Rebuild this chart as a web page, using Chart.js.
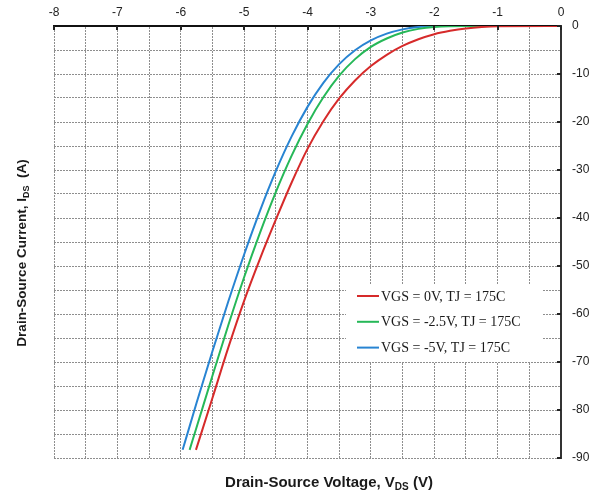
<!DOCTYPE html>
<html>
<head>
<meta charset="utf-8">
<script src="https://cdn.jsdelivr.net/npm/chart.js@4.4.1/dist/chart.umd.min.js"></script>
<style>
  html, body { margin: 0; padding: 0; background: #fff; }
  #wrap { width: 592px; height: 493px; }
</style>
</head>
<body>
<div id="wrap"><canvas id="chart" width="592" height="493"></canvas></div>
<script>
// curve labels, same order as the legend
const seriesLabels = ['VGS = 0V, TJ = 175C', 'VGS = -2.5V, TJ = 175C', 'VGS = -5V, TJ = 175C'];
const seriesColors = ['rgb(214,42,42)', 'rgb(38,184,88)', 'rgb(40,132,210)'];

// VGS = 0V
const vdsRed = [-5.76, -5.5, -5.25, -5, -4.75, -4.5, -4.25, -4, -3.75, -3.5, -3.25, -3, -2.75, -2.5, -2.25, -2, -1.75, -1.5, -1.25, -1, 0];
const idsRed = [-88.3, -77.5, -67, -57.25, -48.5, -40.35, -32.6, -25.6, -19.85, -15.1, -11.35, -8.35, -6, -4.15, -2.75, -1.7, -1, -0.5, -0.2, -0.05, 0];

// VGS = -2.5V
const vdsGreen = [-5.86, -5.75, -5.5, -5.25, -5, -4.75, -4.5, -4.25, -4, -3.75, -3.5, -3.25, -3, -2.75, -2.5, -2.25, -2, -1.5, 0];
const idsGreen = [-88.3, -83.6, -72.85, -62.35, -52.35, -43.1, -34.6, -27, -20.4, -14.85, -10.35, -6.9, -4.35, -2.6, -1.35, -0.6, -0.2, 0, 0];

// VGS = -5V
const vdsBlue = [-5.97, -5.75, -5.5, -5.25, -5, -4.75, -4.5, -4.25, -4, -3.75, -3.5, -3.25, -3, -2.75, -2.5, -2.25, -2, 0];
const idsBlue = [-88.3, -78.5, -67.75, -57.4, -47.6, -38.5, -30.25, -23, -16.85, -11.85, -7.95, -5.05, -3, -1.6, -0.7, -0.2, 0, 0];

// axis ranges
const xMin = -8, xMax = 0, xStep = 0.5;
const yMin = -90, yMax = 0, yStep = 5;

const sansFont = "'Liberation Sans', Arial, sans-serif";
const serifFont = "'Liberation Serif', 'Times New Roman', serif";

const toPoints = (xs, ys) => xs.map((v, i) => ({ x: v, y: ys[i] }));

const curveSets = [
    toPoints(vdsRed, idsRed),
    toPoints(vdsGreen, idsGreen),
    toPoints(vdsBlue, idsBlue)
];

// text with a subscript part, e.g. V + DS
function drawSubText(ctx, parts, cx, cy, size) {
    const mainFont = 'bold ' + size + 'px ' + sansFont;
    const subFont = 'bold ' + Math.round(size * 0.68) + 'px ' + sansFont;
    let total = 0;
    parts.forEach(p => {
        ctx.font = p.sub ? subFont : mainFont;
        total += ctx.measureText(p.text).width;
    });
    let x = cx - total / 2;
    ctx.textAlign = 'left';
    ctx.textBaseline = 'alphabetic';
    parts.forEach(p => {
        ctx.font = p.sub ? subFont : mainFont;
        ctx.fillText(p.text, x, cy + (p.sub ? 3 : 0));
        x += ctx.measureText(p.text).width;
    });
}

const extras = {
    id: 'extras',
    afterDatasetsDraw(chart) {
        const { ctx, chartArea: a, scales } = chart;
        const xs = scales.x, ys = scales.y;
        ctx.save();

        // short tick marks pointing into the plot
        ctx.strokeStyle = '#222';
        ctx.lineWidth = 2;
        ctx.beginPath();
        for (let v = xMin; v <= xMax; v++) {
            const px = Math.round(xs.getPixelForValue(v));
            ctx.moveTo(px, a.top);
            ctx.lineTo(px, a.top + 4);
        }
        for (let v = yMax; v >= yMin; v -= 10) {
            const py = Math.round(ys.getPixelForValue(v));
            ctx.moveTo(a.right - 4, py);
            ctx.lineTo(a.right, py);
        }
        ctx.stroke();

        // legend box inside the plot
        ctx.fillStyle = '#fff';
        ctx.fillRect(346, 284, 196, 78);
        ctx.font = '14px ' + serifFont;
        ctx.textAlign = 'left';
        ctx.textBaseline = 'middle';
        seriesLabels.forEach((label, i) => {
            const rowY = 296 + i * 25.8;
            ctx.strokeStyle = seriesColors[i];
            ctx.lineWidth = 2;
            ctx.beginPath();
            ctx.moveTo(357, rowY);
            ctx.lineTo(379, rowY);
            ctx.stroke();
            ctx.fillStyle = '#1a1a1a';
            ctx.fillText(label, 381, rowY + 1);
        });
        ctx.restore();
    },
    afterDraw(chart) {
        const { ctx } = chart;
        ctx.save();
        ctx.fillStyle = '#1a1a1a';
        drawSubText(ctx, [
            { text: 'Drain-Source Voltage, V' },
            { text: 'DS', sub: true },
            { text: ' (V)' }
        ], 329, 487, 15);

        ctx.translate(26, 253);
        ctx.rotate(-Math.PI / 2);
        drawSubText(ctx, [
            { text: 'Drain-Source Current, I' },
            { text: 'DS', sub: true },
            { text: '  (A)' }
        ], 0, 0, 13.5);
        ctx.restore();
    }
};

new Chart(document.getElementById('chart'), {
    type: 'line',
    data: {
        datasets: curveSets.map((pts, i) => ({
            label: seriesLabels[i],
            data: pts,
            borderColor: seriesColors[i],
            borderWidth: 2,
            pointRadius: 0,
            fill: false,
            cubicInterpolationMode: 'monotone'
        }))
    },
    options: {
        responsive: false,
        animation: false,
        layout: { padding: { left: 54, right: 0, top: 0, bottom: 35 } },
        plugins: {
            legend: { display: false },
            tooltip: { enabled: false }
        },
        scales: {
            x: {
                type: 'linear',
                position: 'top',
                min: xMin,
                max: xMax,
                afterFit: (s) => { s.height = 26; },
                ticks: {
                    stepSize: xStep,
                    maxTicksLimit: 100,
                    autoSkip: false,
                    maxRotation: 0,
                    padding: 6,
                    color: '#222',
                    font: { family: sansFont, size: 12 },
                    callback: (v) => Number.isInteger(v) ? String(v) : ''
                },
                grid: { color: '#8e8e8e', lineWidth: 1, drawTicks: false },
                border: { color: '#111', width: 2, dash: [2, 1] }
            },
            y: {
                type: 'linear',
                position: 'right',
                min: yMin,
                max: yMax,
                afterFit: (s) => { s.width = 31; },
                ticks: {
                    stepSize: yStep,
                    maxTicksLimit: 100,
                    autoSkip: false,
                    padding: 11,
                    color: '#222',
                    font: { family: sansFont, size: 12 },
                    callback: (v) => v % 10 === 0 ? String(v) : ''
                },
                grid: { color: '#8e8e8e', lineWidth: 1, drawTicks: false },
                border: { color: '#333', width: 2, dash: [2, 1] }
            }
        }
    },
    plugins: [extras]
});
</script>
</body>
</html>
